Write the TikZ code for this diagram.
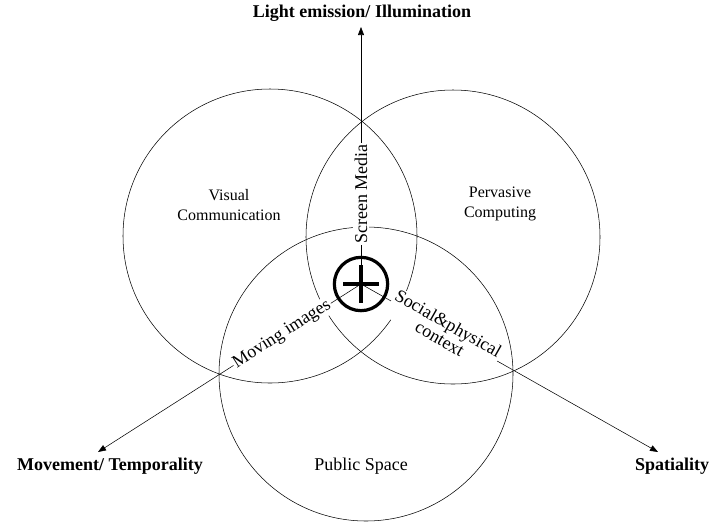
\documentclass[tikz,border=0pt]{standalone}
\usepackage{fontspec}
\setmainfont{Liberation Serif}
\usetikzlibrary{arrows.meta}

\begin{document}
\begin{tikzpicture}[x=0.75pt,y=-0.75pt,-,>={Triangle[length=6pt,width=4.5pt]},thin,
    ring/.style={circle,draw,minimum size=220.5pt,inner sep=0pt},
    area/.style={align=center,font=\fontsize{12}{15}\selectfont},
    axis label/.style={font=\bfseries\fontsize{13.5}{15}\selectfont},
    tag/.style={fill=white,inner sep=1pt,sloped,font=\fontsize{13.5}{13}\selectfont}]
    \useasboundingbox (0,0) rectangle (710,522);

    % the three fields
    \node[ring] (vis) at (270,236) {};
    \node[ring] (perv) at (453,237) {};
    \node[ring] (pub) at (366,374) {};

    \node[area] (vistext) at (229,205) {Visual\\Communication};
    \node[area] (pervtext) at (500,204) {Pervasive\\Computing};
    \node[area,font=\fontsize{13.5}{16}\selectfont] (pubtext) at (361,466) {Public Space};

    % axes
    \coordinate (o) at (361,284);
    \coordinate (top) at (361,27);
    \coordinate (left) at (98,452);
    \coordinate (right) at (658,452);

    \path[->]
        (o) edge node[tag,pos=0.35] {Screen Media} (top)
        (o) edge node[tag,pos=0.30] {Moving images} (left)
        (o) edge node[tag,pos=0.28,align=center] {Social\&physical\\context} (right);

    \node[axis label] (light) at (362,13) {Light emission/ Illumination};
    \node[axis label] (move) at (110,466) {Movement/ Temporality};
    \node[axis label] (spat) at (672,466) {Spatiality};

    % the plus
    \node[circle,draw,line width=2.4pt,minimum size=40pt,inner sep=0pt] (plus) at (o) {};
    \draw[line width=3.2pt] (o) ++(-18,0) -- ++(36,0) (o) ++(0,-19) -- ++(0,38);
\end{tikzpicture}
\end{document}
